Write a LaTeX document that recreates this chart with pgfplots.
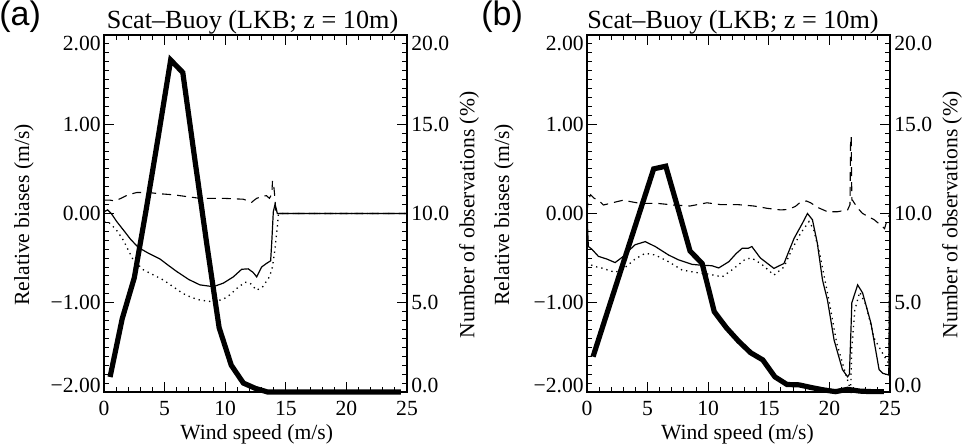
\documentclass[border=0pt]{standalone}
\usepackage{fontspec}
\setmainfont{Liberation Serif}
\newfontfamily\helv{Liberation Sans}
\usepackage{pgfplots}
\usepackage{pgfplotstable}
\pgfplotsset{compat=1.18}

% ---------------- Panel (a) data ----------------
\pgfplotstableread{
x y
0.0 0.02
0.3 0.04
0.6 0.0
1.05 -0.09
1.6 -0.185
2.2 -0.29
2.83 -0.38
3.6 -0.44
4.62 -0.51
5.3 -0.58
6.0 -0.65
7.0 -0.74
7.92 -0.80
9.02 -0.82
9.85 -0.78
10.67 -0.71
11.36 -0.625
11.9 -0.62
12.3 -0.66
12.6 -0.71
13.0 -0.60
13.4 -0.56
13.75 -0.53
13.85 -0.30
13.97 0.02
14.1 0.095
14.2 0.06
14.3 0.0
25 0
}\aSolid
\pgfplotstableread{
x y
0.0 -0.09
0.4 -0.10
1.0 -0.18
1.6 -0.30
2.0 -0.41
2.42 -0.52
3.24 -0.63
4.1 -0.69
4.9 -0.745
5.7 -0.82
6.5 -0.895
7.2 -0.94
7.92 -0.97
9.02 -0.99
9.85 -0.96
10.4 -0.91
10.95 -0.84
11.64 -0.77
12.05 -0.78
12.6 -0.86
13.1 -0.82
13.65 -0.71
13.9 -0.60
14.1 -0.41
14.3 -0.15
14.38 -0.02
14.5 0
25 0
}\aDot
\pgfplotstableread{
x y
0.0 0.15
0.5 0.15
0.9 0.14
1.4 0.17
2.0 0.21
2.7 0.235
3.67 0.235
4.7 0.22
5.72 0.21
6.8 0.19
7.92 0.17
9.0 0.17
9.85 0.17
10.7 0.165
11.5 0.16
11.9 0.14
12.18 0.125
12.4 0.15
12.6 0.17
13.0 0.19
13.4 0.20
13.65 0.17
13.85 0.22
13.9 0.36
13.97 0.36
14.05 0.25
14.2 0.0
25 0
}\aDash
\pgfplotstableread{
x p
0.5 0.84
1.5 4.1
2.5 6.4
3.5 10.3
4.5 14.4
5.5 18.6
6.5 17.9
7.5 13.0
8.5 8.2
9.5 3.6
10.5 1.5
11.5 0.5
12.5 0.2
13.5 0.0
14.5 0.0
15.5 0.0
16.5 0.0
17.5 0.0
18.5 0.0
19.5 0.0
20.5 0.0
21.5 0.0
22.5 0.0
23.5 0.0
24.5 0.0
}\aObs

% ---------------- Panel (b) data ----------------
\pgfplotstableread{
x y
0.0 0.0
0.11 -0.37
0.4 -0.40
0.94 -0.48
1.63 -0.51
2.32 -0.55
3.0 -0.48
3.5 -0.41
3.97 -0.35
4.8 -0.315
5.63 -0.37
6.73 -0.465
7.56 -0.52
8.67 -0.57
9.5 -0.58
10.3 -0.585
10.87 -0.61
11.7 -0.54
12.3 -0.45
12.8 -0.39
13.3 -0.39
13.6 -0.37
14.2 -0.48
14.32 -0.50
15.42 -0.615
16.25 -0.56
17.08 -0.28
17.77 -0.11
18.19 0.0
18.6 -0.07
19.0 -0.33
19.43 -0.745
19.84 -0.97
20.39 -1.42
21.08 -1.75
21.5 -1.83
21.65 -1.80
21.78 -1.3
21.85 -1.0
22.33 -0.80
22.74 -0.89
23.43 -1.23
24.1 -1.75
24.4 -1.79
24.9 -1.81
25.0 0.0
}\bSolid
\pgfplotstableread{
x y
0.0 -0.54
0.5 -0.59
1.2 -0.61
2.32 -0.66
3.1 -0.61
3.97 -0.51
4.8 -0.446
5.63 -0.465
6.73 -0.54
7.84 -0.633
8.94 -0.66
10.04 -0.68
11.15 -0.71
11.98 -0.63
13.08 -0.51
13.6 -0.50
14.32 -0.56
14.6 -0.59
15.42 -0.69
16.25 -0.60
16.95 -0.39
17.63 -0.22
18.32 -0.09
18.7 -0.18
19.2 -0.45
20.0 -1.0
20.6 -1.45
21.3 -1.78
21.75 -1.98
21.85 -1.5
22.1 -1.08
22.5 -0.88
23.0 -1.02
23.7 -1.40
24.53 -1.60
24.9 -1.68
25.0 0.0
}\bDot
\pgfplotstableread{
x y
0.0 0.02
0.1 0.15
0.3 0.21
0.6 0.17
0.94 0.15
1.35 0.095
2.1 0.12
3.0 0.15
3.7 0.13
4.39 0.114
5.76 0.114
7.15 0.095
8.5 0.084
9.9 0.12
11.0 0.10
12.4 0.10
13.77 0.084
14.87 0.058
15.98 0.04
16.6 0.045
17.2 0.08
17.63 0.13
18.1 0.14
18.45 0.12
19.0 0.07
19.84 0.02
20.67 0.02
21.5 0.04
21.7 0.10
21.75 0.86
21.8 0.86
21.85 0.15
21.9 0.15
22.33 0.06
22.74 0.0
23.7 -0.07
24.4 -0.15
24.55 -0.17
24.7 -0.10
25.0 0.0
}\bDash
\pgfplotstableread{
x p
0.5 1.98
1.5 4.1
2.5 6.2
3.5 8.3
4.5 10.4
5.5 12.5
6.5 12.65
7.5 10.3
8.5 7.9
9.5 7.2
10.5 4.5
11.5 3.6
12.5 2.85
13.5 2.2
14.5 1.8
15.5 0.85
16.5 0.42
17.5 0.40
18.5 0.25
19.5 0.12
20.5 0.02
21.5 0.15
22.5 0.05
23.5 0.02
24.5 0.02
}\bObs

\pgfplotsset{
  basestyle/.style={
    scale only axis, width=151.5pt, height=178.5pt,
    xmin=0, xmax=25, clip=false,
    axis line style={line width=0.55pt},
    every tick/.style={line width=0.5pt, black},
    tick align=inside,
    major tick length=5pt, minor tick length=2.5pt,
    tick label style={font=\fontsize{10.8}{12}\selectfont},
  },
  leftaxis/.style={
    basestyle,
    ymin=-2, ymax=2,
    ytick={-2,-1,0,1,2},
    yticklabels={{\raisebox{3.5pt}[\height][\depth]{−2.00}},−1.00,0.00,1.00,{\raisebox{-4pt}[\height][\depth]{2.00}}},
    minor y tick num=9,
    ytick pos=left,
    xtick={0,5,10,15,20,25},
    xticklabels={0,5,10,15,20,25},
    minor x tick num=4,
    xtick pos=both,
    xticklabel pos=lower,
    yticklabel style={inner xsep=1.5pt},
    xticklabel style={inner ysep=1pt, yshift=-3.5pt},
  },
  rightaxis/.style={
    basestyle,
    ymin=0, ymax=20,
    axis y line*=right, axis x line=none,
    ytick={0,5,10,15,20},
    yticklabels={{\raisebox{3.5pt}[\height][\depth]{0.0}},5.0,10.0,15.0,{\raisebox{-4pt}[\height][\depth]{20.0}}},
    minor y tick num=9,
    yticklabel style={inner xsep=2pt},
  },
  thin/.style={black, line width=0.6pt},
  dotl/.style={black, line width=0.65pt, dash pattern=on 0.65pt off 2pt},
  dashl/.style={black, line width=0.55pt, dash pattern=on 4.5pt off 3pt},
  thick/.style={black, line width=2.6pt},
}

\begin{document}
\begin{tikzpicture}
\useasboundingbox (0,0) rectangle (481pt,222.5pt);

% ===== Panel (a) =====
\begin{axis}[leftaxis, at={(52pt,26.5pt)}, anchor=south west]
  \addplot[thin] table[x=x,y=y] {\aSolid};
  \addplot[dotl] table[x=x,y=y] {\aDot};
  \addplot[dashl] table[x=x,y=y] {\aDash};
\end{axis}
\begin{axis}[rightaxis, at={(52pt,26.5pt)}, anchor=south west]
  \addplot[thick] table[x=x,y=p] {\aObs};
\end{axis}

% ===== Panel (b) =====
\begin{axis}[leftaxis, at={(293.5pt,26.5pt)}, anchor=south west]
  \addplot[thin] table[x=x,y=y] {\bSolid};
  \addplot[dotl] table[x=x,y=y] {\bDot};
  \addplot[dashl] table[x=x,y=y] {\bDash};
\end{axis}
\begin{axis}[rightaxis, at={(293.5pt,26.5pt)}, anchor=south west]
  \addplot[thick] table[x=x,y=p] {\bObs};
\end{axis}

% ===== Texts =====
\node[anchor=base west, inner sep=0pt, font=\helv\fontsize{17}{20}\selectfont] at (-0.5pt,209.5pt) {(a)};
\node[anchor=base west, inner sep=0pt, font=\helv\fontsize{17}{20}\selectfont] at (240.5pt,209.5pt) {(b)};
\node[anchor=base, inner sep=0pt, font=\fontsize{13.1}{15}\selectfont] at (126.3pt,208.3pt) {Scat–Buoy (LKB; z = 10m)};
\node[anchor=base, inner sep=0pt, font=\fontsize{13.1}{15}\selectfont] at (366.5pt,208.3pt) {Scat–Buoy (LKB; z = 10m)};
\node[anchor=base, inner sep=0pt, font=\fontsize{10.8}{12}\selectfont] at (128.3pt,2.8pt) {Wind speed (m/s)};
\node[anchor=base, inner sep=0pt, font=\fontsize{10.8}{12}\selectfont] at (368.7pt,2.8pt) {Wind speed (m/s)};
\node[rotate=90, inner sep=0pt, font=\fontsize{10.8}{12}\selectfont] at (12pt,115pt) {Relative biases (m/s)};
\node[rotate=90, inner sep=0pt, font=\fontsize{10.8}{12}\selectfont] at (252pt,115pt) {Relative biases (m/s)};
\node[rotate=90, inner sep=0pt, font=\fontsize{10.8}{12}\selectfont] at (234.5pt,115pt) {Number of observations (\%)};
\node[rotate=90, inner sep=0pt, font=\fontsize{10.8}{12}\selectfont] at (476pt,115pt) {Number of observations (\%)};
\end{tikzpicture}
\end{document}
